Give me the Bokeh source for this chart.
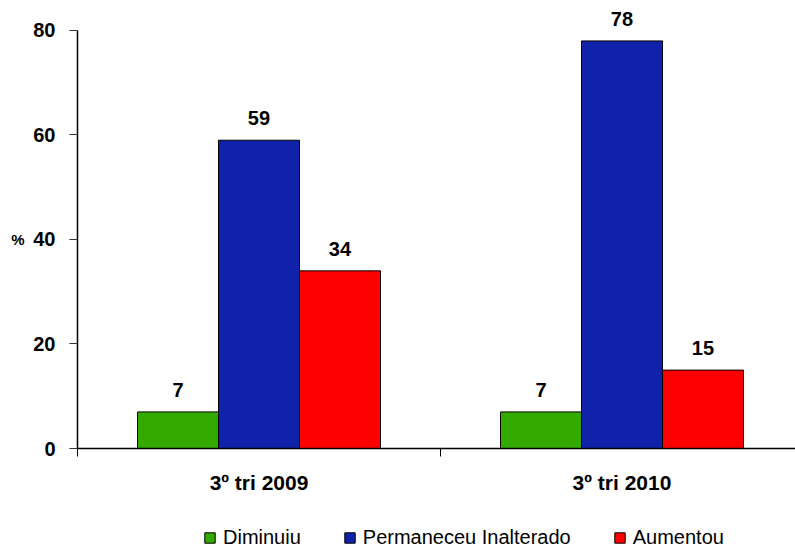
from bokeh.plotting import figure
from bokeh.layouts import column
from bokeh.models import (ColumnDataSource, Range1d, FixedTicker, Legend,
                          LegendItem, LinearAxis)
from bokeh.transform import dodge
from bokeh.core.properties import value
from bokeh.embed import file_html
from bokeh.resources import INLINE

categories = ["3º tri 2009", "3º tri 2010"]
series_names = ["Diminuiu", "Permaneceu Inalterado", "Aumentou"]
diminuiu = [7, 7]
permaneceu = [59, 78]
aumentou = [34, 15]
y_ticks = [0, 20, 40, 60, 80]
unit_label = "%"
unit_pos = 40

colors = ["#33AA00", "#1122AA", "#FF0000"]
FONT = "Liberation Sans"

xc = [i + 0.5 for i in range(len(categories))]
bar_w = 0.2231
offsets = [-bar_w, 0.0, bar_w]
values_list = [diminuiu, permaneceu, aumentou]

p = figure(width=795, height=500,
           x_range=Range1d(0, 1.978), y_range=Range1d(0, 84.21),
           output_backend="svg", toolbar_location=None,
           min_border_left=77, min_border_right=0,
           min_border_top=8, min_border_bottom=52)
p.outline_line_color = None
p.xgrid.visible = False
p.ygrid.visible = False
p.background_fill_color = "white"
p.border_fill_color = "white"

for vals, off, col in zip(values_list, offsets, colors):
    src = ColumnDataSource(dict(x=xc, y=vals, t=[str(v) for v in vals]))
    p.vbar(x=dodge("x", off), top="y", bottom=0, width=bar_w, source=src,
           fill_color=col, line_color="black", line_width=1)
    p.text(x=dodge("x", off), y="y", text="t", source=src,
           text_align="center", text_baseline="bottom", y_offset=-15,
           text_font=value(FONT), text_font_size="20px", text_font_style="bold",
           text_color="black")

# x axis
xa = p.xaxis[0]
xa.ticker = FixedTicker(ticks=xc, minor_ticks=[0, 1, 2])
xa.major_label_overrides = {x: c for x, c in zip(xc, categories)}
xa.major_tick_out = 0
xa.major_tick_in = 0
xa.minor_tick_out = 8
xa.minor_tick_in = 0
xa.major_label_standoff = 14
xa.major_label_text_font = FONT
xa.major_label_text_font_size = "21px"
xa.major_label_text_font_style = "bold"
xa.major_label_text_color = "black"
xa.axis_line_color = "black"
xa.axis_line_width = 1.5

# y axis
ya = p.yaxis[0]
ya.ticker = FixedTicker(ticks=y_ticks, minor_ticks=[])
ya.bounds = (0, 80)
ya.major_tick_out = 8
ya.major_tick_in = 0
ya.major_tick_line_color = "#333333"
ya.major_label_standoff = 14
ya.major_label_text_font = FONT
ya.major_label_text_font_size = "20px"
ya.major_label_text_font_style = "bold"
ya.major_label_text_color = "black"
ya.axis_line_color = "black"
ya.axis_line_width = 1.5

# unit "%" shown as a second, bare axis on the left
ua = LinearAxis(ticker=FixedTicker(ticks=[unit_pos], minor_ticks=[]),
                major_label_overrides={unit_pos: unit_label})
ua.axis_line_color = None
ua.major_tick_line_color = None
ua.major_tick_out = 0
ua.major_tick_in = 0
ua.major_label_standoff = 6
ua.major_label_text_font = FONT
ua.major_label_text_font_size = "15px"
ua.major_label_text_font_style = "bold"
ua.major_label_text_color = "black"
p.add_layout(ua, "left")

# legend strip below the chart
lf = figure(width=795, height=49, x_range=Range1d(0, 1), y_range=Range1d(0, 1),
            output_backend="svg", toolbar_location=None,
            x_axis_location=None, y_axis_location=None,
            min_border_left=0, min_border_right=0,
            min_border_top=0, min_border_bottom=0)
lf.outline_line_color = None
lf.xgrid.visible = False
lf.ygrid.visible = False
lf.background_fill_color = "white"
lf.border_fill_color = "white"

items = []
for name, col in zip(series_names, colors):
    # legend-only renderer, placed outside the visible range
    r = lf.vbar(x=[5], top=[0.5], bottom=0, width=0.1, fill_color=col,
                line_color="black", line_width=1)
    items.append(LegendItem(label=name, renderers=[r]))

legend = Legend(items=items, orientation="horizontal", location=(126, 0),
                glyph_width=13, glyph_height=13, label_standoff=7, spacing=42,
                padding=0, margin=0, border_line_color=None,
                background_fill_alpha=0,
                label_text_font=FONT, label_text_font_size="20px",
                label_text_color="black")
lf.add_layout(legend, "center")

layout = column(p, lf, spacing=0)
open("out.html", "w").write(file_html(layout, INLINE))
